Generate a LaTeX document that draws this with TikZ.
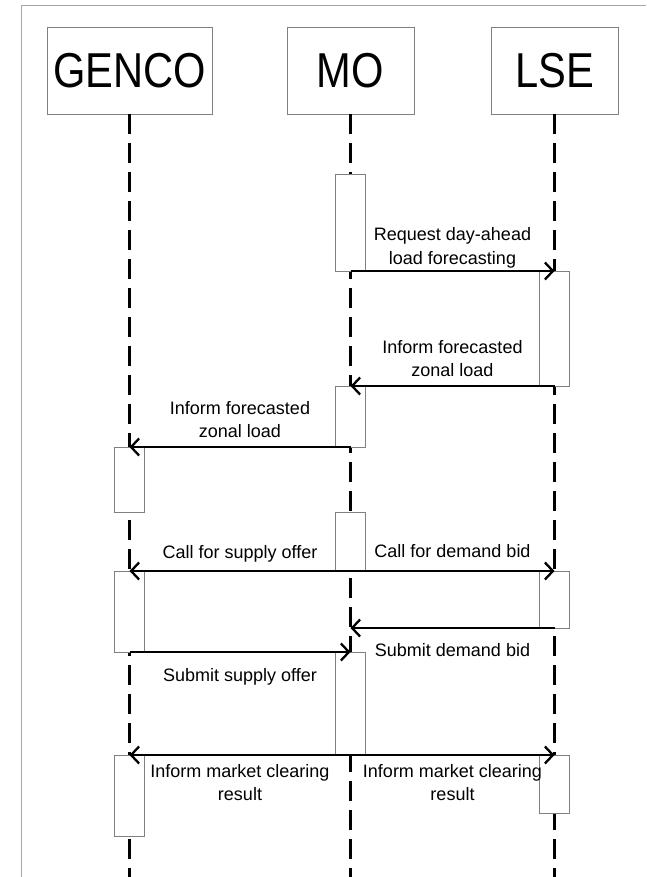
\documentclass[tikz,border=0pt]{standalone}
\usepackage{fontspec}
\setmainfont{Liberation Sans}
\newfontfamily\headfont[FakeStretch=0.85]{Liberation Sans}
\usetikzlibrary{arrows.meta}

\begin{document}
\begin{tikzpicture}[x=1pt, y=-1pt,
    actor/.style={draw=gray, fill=white, line width=0.8pt, outer sep=0pt,
      minimum height=87pt, font=\headfont\fontsize{49}{55}\selectfont},
    life/.style={line width=2.4pt, dash pattern=on 20pt off 9pt},
    act/.style={draw=gray, fill=white, line width=0.8pt, outer sep=0pt,
      inner sep=0pt, minimum width=30pt, anchor=north},
    msg/.style={line width=2.3pt, -{Straight Barb[length=8pt,width=17pt]}},
    lab/.style={midway, align=center, inner sep=2pt,
      font=\fontsize{18}{23.5}\selectfont}]

  \useasboundingbox (0,0) rectangle (646,877);
  \coordinate (bot) at (0,877);

% ---------------- page frame
  \draw[gray!70, line width=1pt] (21,877) -- (21,6) -- (646,6);

% ---------------- the three parties
  \node[actor, minimum width=165pt] (genco) at (129.5,70.5) {GENCO};
  \node[actor, minimum width=127pt] (mo)    at (350.5,70.5) {MO};
  \node[actor, minimum width=127pt] (lse)   at (554.5,70.5) {LSE};

% ---------------- lifelines
  \foreach \p in {genco,mo,lse}
    \draw[life] (\p.south) -- (\p.south |- bot);

% ---------------- activation boxes, top edge and length
  \node[act, minimum height=97pt]  (mo1)  at (mo.south |- 0,174)    {};
  \node[act, minimum height=115pt] (lse1) at (lse.south |- 0,271)   {};
  \node[act, minimum height=61pt]  (mo2)  at (mo.south |- 0,386)    {};
  \node[act, minimum height=65pt]  (gen1) at (genco.south |- 0,447) {};
  \node[act, minimum height=59pt]  (mo3)  at (mo.south |- 0,512)    {};
  \node[act, minimum height=81pt]  (gen2) at (genco.south |- 0,571) {};
  \node[act, minimum height=57pt]  (lse2) at (lse.south |- 0,571)   {};
  \node[act, minimum height=103pt] (mo4)  at (mo.south |- 0,652)    {};
  \node[act, minimum height=81pt]  (gen3) at (genco.south |- 0,755) {};
  \node[act, minimum height=58pt]  (lse3) at (lse.south |- 0,755)   {};

% ---------------- messages
  \draw[msg] (mo1.south) -- (lse1.north)
    node[lab, above=0pt] {Request day-ahead\\load forecasting};
  \draw[msg] (lse1.south) -- (mo2.north)
    node[lab, above=6pt] {Inform forecasted\\zonal load};
  \draw[msg] (mo2.south) -- (gen1.north)
    node[lab, above=6pt] {Inform forecasted\\zonal load};
  \draw[msg] (mo3.south) -- (gen2.north)
    node[lab, above=6pt] {Call for supply offer};
  \draw[msg] (mo3.south) -- (lse2.north)
    node[lab, above=10pt] {Call for demand bid};
  \draw[msg] (lse2.south) -- (lse2.south -| mo.south)
    node[lab, below=12pt] {Submit demand bid};
  \draw[msg] (gen2.south) -- (mo4.north)
    node[lab, below=13pt] {Submit supply offer};
  \draw[msg] (mo4.south) -- (gen3.north)
    node[lab, below=6pt] {Inform market clearing\\result};
  \draw[msg] (mo4.south) -- (lse3.north)
    node[lab, below=6pt] {Inform market clearing\\result};
\end{tikzpicture}
\end{document}
